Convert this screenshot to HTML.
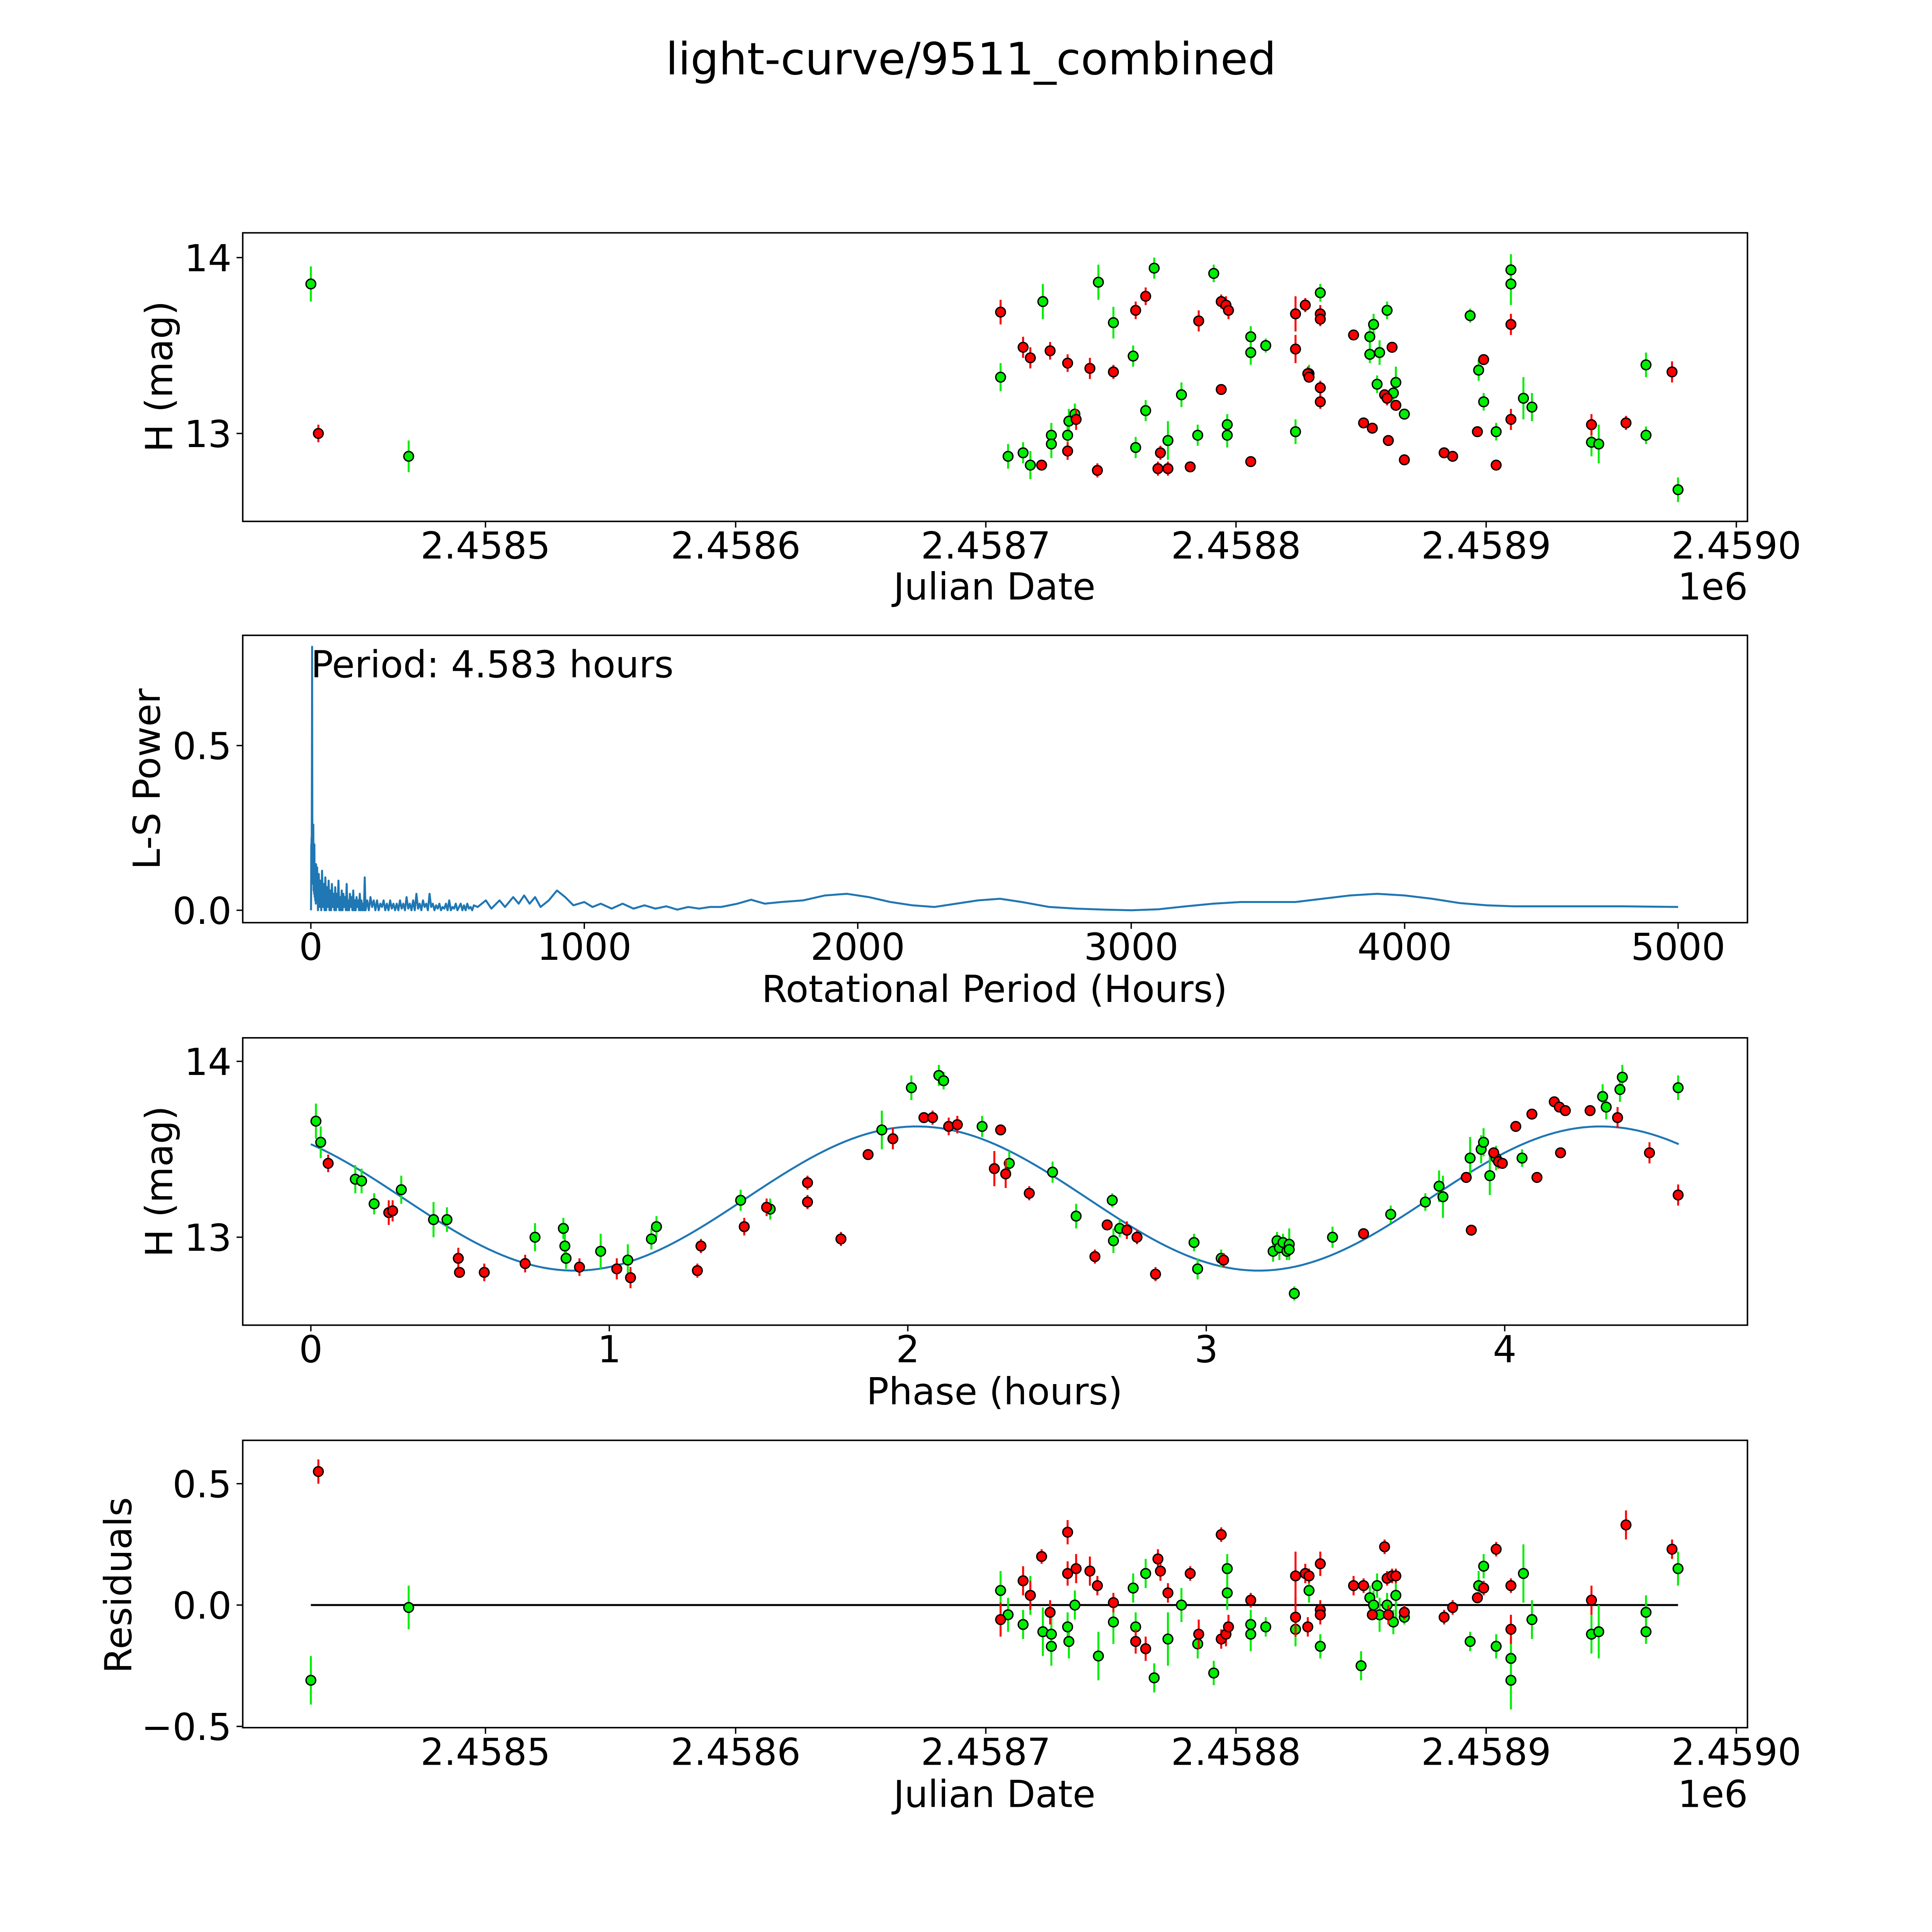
<!DOCTYPE html>
<html><head><meta charset="utf-8">
<style>
html,body{margin:0;padding:0;background:#fff;overflow:hidden;width:100%;height:100%;}
svg{display:block;position:fixed;left:0;top:0;width:100vw;height:100vh;}
text{font-family:"DejaVu Sans","Liberation Sans",sans-serif;fill:#000;}
</style></head>
<body>
<svg id="fig" xmlns="http://www.w3.org/2000/svg" viewBox="0 0 1560 1560" preserveAspectRatio="none">
<rect x="0" y="0" width="1560" height="1560" fill="#fff"/>
<text x="784" y="60" font-size="36" text-anchor="middle">light-curve/9511_combined</text>
<g id="p1"></g>
<g id="p2"></g>
<g id="p3"></g>
<g id="p4"></g>
</svg>
<script>
// ---------- data (JD given as days since 2458500) ----------
const greenJD = [-69.8,-30.7,205.9,208.9,214.9,217.8,222.8,226.2,226.2,232.7,233.2,235.6,245.0,251.0,258.9,259.9,263.9,267.3,272.8,278.2,284.7,291.1,296.5,296.5,305.9,305.9,311.9,323.8,329.2,333.7,353.5,353.5,355.0,356.4,357.4,360.4,362.9,363.9,367.3,393.6,397.0,399.0,404.0,409.9,409.9,414.9,418.3,442.1,445.0,463.9,463.9,476.7];
const greenMag = [13.85,12.87,13.32,12.87,12.89,12.82,13.75,12.99,12.94,12.99,13.07,13.11,13.86,13.63,13.44,12.92,13.13,13.94,12.96,13.22,12.99,13.91,13.05,12.99,13.55,13.46,13.50,13.01,13.34,13.80,13.55,13.45,13.62,13.28,13.46,13.70,13.23,13.29,13.11,13.67,13.36,13.18,13.01,13.93,13.85,13.20,13.15,12.95,12.94,13.39,12.99,12.68];
const greenErr = [0.1,0.09,0.08,0.07,0.06,0.08,0.1,0.07,0.08,0.06,0.07,0.06,0.1,0.09,0.06,0.06,0.06,0.06,0.11,0.07,0.06,0.05,0.06,0.07,0.06,0.07,0.04,0.07,0.05,0.05,0.06,0.05,0.06,0.05,0.07,0.05,0.05,0.09,0.03,0.04,0.06,0.05,0.05,0.09,0.12,0.12,0.08,0.08,0.11,0.07,0.05,0.07];
const redJD = [-66.8,205.9,214.9,217.8,222.3,225.7,232.7,232.7,236.1,241.6,244.6,251.0,259.9,263.9,268.8,269.8,272.8,281.7,285.1,294.1,294.1,296.0,297.0,305.9,323.8,323.8,327.7,328.7,329.2,333.7,333.7,333.7,333.7,347.0,351.0,354.5,359.4,360.4,360.9,362.4,363.9,367.3,383.2,386.6,396.5,399.0,404.0,409.9,409.9,442.1,455.9,474.3];
const redMag = [13.00,13.69,13.49,13.43,12.82,13.47,13.40,12.90,13.08,13.37,12.79,13.35,13.70,13.78,12.80,12.89,12.80,12.81,13.64,13.25,13.75,13.73,13.70,12.84,13.68,13.48,13.73,13.34,13.32,13.68,13.65,13.26,13.18,13.56,13.06,13.03,13.22,13.20,12.96,13.49,13.16,12.85,12.89,12.87,13.01,13.42,12.82,13.62,13.08,13.05,13.06,13.35];
const redErr = [0.05,0.07,0.06,0.06,0.03,0.05,0.05,0.05,0.06,0.06,0.04,0.04,0.05,0.05,0.04,0.04,0.04,0.03,0.06,0.03,0.04,0.05,0.05,0.03,0.1,0.08,0.04,0.04,0.03,0.05,0.04,0.04,0.04,0.03,0.02,0.03,0.03,0.04,0.03,0.03,0.03,0.03,0.03,0.02,0.03,0.03,0.03,0.06,0.06,0.06,0.04,0.06];

const greenResJD = [-69.8,-30.7,205.9,208.9,214.9,217.8,222.8,226.2,226.2,232.7,233.2,235.6,245.0,251.0,258.9,259.9,263.9,267.3,272.8,278.2,284.7,291.1,296.5,296.5,305.9,305.9,311.9,323.8,329.2,333.7,350.0,353.5,355.0,356.4,357.4,360.4,362.9,363.9,367.3,393.6,397.0,399.0,404.0,409.9,409.9,414.9,418.3,442.1,445.0,463.9,463.9,476.7];
const greenRes = [-0.31,-0.01,0.06,-0.04,-0.08,0.04,-0.11,-0.12,-0.17,-0.09,-0.15,0.0,-0.21,-0.07,0.07,-0.09,0.13,-0.30,-0.14,0.0,-0.16,-0.28,0.15,0.05,-0.08,-0.12,-0.09,-0.10,0.06,-0.17,-0.25,0.03,0.0,0.08,-0.04,0.0,-0.07,0.04,-0.05,-0.15,0.08,0.16,-0.17,-0.22,-0.31,0.13,-0.06,-0.12,-0.11,-0.03,-0.11,0.15];
const redResJD = [-66.8,205.9,214.9,217.8,222.3,225.7,232.7,232.7,236.1,241.6,244.6,251.0,259.9,263.9,268.8,269.8,272.8,281.7,285.1,294.1,294.1,296.0,297.0,305.9,323.8,323.8,327.7,328.7,329.2,333.7,333.7,333.7,347.0,351.0,354.5,359.4,360.4,360.9,362.4,363.9,367.3,383.2,386.6,396.5,399.0,404.0,409.9,409.9,442.1,455.9,474.3];
const redRes = [0.55,-0.06,0.10,0.04,0.20,-0.03,0.30,0.13,0.15,0.14,0.08,0.01,-0.15,-0.18,0.19,0.14,0.05,0.13,-0.12,0.29,-0.14,-0.12,-0.09,0.02,0.12,-0.05,0.13,-0.09,0.12,0.17,-0.02,-0.04,0.08,0.08,-0.04,0.24,0.11,-0.04,0.12,0.12,-0.03,-0.05,-0.01,0.03,0.07,0.23,0.08,-0.10,0.02,0.33,0.23];

const greenPhase = [0.017,0.033,0.149,0.170,0.212,0.303,0.411,0.456,0.751,0.846,0.851,0.855,0.971,1.062,1.141,1.158,1.440,1.539,1.913,2.012,2.104,2.120,2.249,2.340,2.485,2.564,2.685,2.689,2.710,2.959,2.971,3.050,3.224,3.237,3.245,3.257,3.270,3.278,3.278,3.295,3.423,3.618,3.734,3.780,3.793,3.884,3.921,3.929,3.950,3.971,4.058,4.328,4.340,4.386,4.394,4.581];
const greenPhaseMag = [13.66,13.54,13.33,13.32,13.19,13.27,13.10,13.10,13.00,13.05,12.95,12.88,12.92,12.87,12.99,13.06,13.21,13.16,13.61,13.85,13.92,13.89,13.63,13.42,13.37,13.12,13.21,12.98,13.05,12.97,12.82,12.88,12.92,12.98,12.94,12.97,12.92,12.96,12.93,12.68,13.00,13.13,13.20,13.29,13.23,13.45,13.50,13.54,13.35,13.45,13.45,13.80,13.74,13.84,13.91,13.85];
const redPhase = [0.058,0.261,0.274,0.494,0.498,0.581,0.718,0.900,1.025,1.071,1.295,1.307,1.452,1.527,1.664,1.664,1.776,1.867,1.950,2.054,2.083,2.137,2.166,2.311,2.290,2.328,2.407,2.627,2.668,2.734,2.768,2.830,3.058,3.527,3.888,3.871,3.963,3.979,3.992,4.037,4.091,4.108,4.166,4.183,4.187,4.203,4.286,4.378,4.485,4.581];
const redPhaseMag = [13.42,13.14,13.15,12.88,12.80,12.80,12.85,12.83,12.82,12.77,12.81,12.95,13.06,13.17,13.31,13.20,12.99,13.47,13.56,13.68,13.68,13.63,13.64,13.61,13.39,13.36,13.25,12.89,13.07,13.04,13.00,12.79,12.87,13.02,13.04,13.34,13.48,13.43,13.42,13.63,13.70,13.34,13.77,13.74,13.48,13.72,13.72,13.68,13.48,13.24];

// sinusoidal fit parameters: [offset, amplitude, periodHours, peakPhase]
const fitParams = [13.22, 0.41, 2.2915, 2.03];
const fitRange = [0, 4.583];

// Lomb-Scargle periodogram
const lsPeriod = [0.5,1,1.5,2,2.5,3,3.5,4,4.3,4.58,4.9,5.3,6,7,8,9,10,11,12,13,14,15,16,17,18,19,20,
 23,26,29,32,35,38,41,44,47,50,53,56,59,62,65,68,71,74,77,80,83,86,89,92,95,98,101,104,107,110,113,116,119,122,125,128,131,134,137,140,143,146,149,152,155,158,161,164,167,170,173,176,179,182,185,188,191,194,197,200,
 206,212,218,224,230,236,242,248,254,260,266,272,278,284,290,296,302,308,314,320,326,332,338,344,350,356,362,368,374,380,386,392,398,404,410,416,422,428,434,440,446,452,458,464,470,476,482,488,494,500,506,512,518,524,530,536,542,548,554,560,566,572,578,584,590,596,
 610,640,660,690,710,740,760,780,800,820,840,870,900,930,960,1000,1030,1060,1100,1140,1180,1220,1260,1300,1340,1380,1420,1460,1500,1560,1610,1660,1720,1800,1880,1960,2040,2120,2200,2280,2360,2440,2520,2600,2700,2800,2900,3000,3100,3200,3300,3400,3500,3600,3700,3800,3900,4000,4100,4200,4300,4400,4600,4800,5000];
const lsPower = [0.0,0.05,0.2,0.1,0.22,0.12,0.3,0.45,0.6,0.80,0.55,0.3,0.12,0.2,0.08,0.26,0.06,0.14,0.05,0.2,0.04,0.12,0.03,0.1,0.02,0.14,0.03,
 0.13,0.0,0.11,0.01,0.09,0.0,0.12,0.01,0.08,0.0,0.1,0.0,0.07,0.01,0.09,0.0,0.06,0.0,0.08,0.01,0.05,0.0,0.07,0.0,0.05,0.01,0.09,0.0,0.04,0.0,0.06,0.0,0.05,0.01,0.04,0.0,0.08,0.0,0.03,0.0,0.05,0.01,0.04,0.0,0.06,0.0,0.03,0.0,0.04,0.01,0.03,0.0,0.05,0.0,0.03,0.0,0.02,0.0,0.1,0.0,
 0.03,0.0,0.04,0.01,0.03,0.0,0.03,0.0,0.02,0.01,0.03,0.0,0.02,0.0,0.03,0.005,0.02,0.0,0.02,0.0,0.03,0.005,0.02,0.0,0.04,0.005,0.02,0.0,0.03,0.0,0.05,0.005,0.02,0.0,0.03,0.01,0.02,0.0,0.05,0.01,0.02,0.0,0.015,0.005,0.02,0.0,0.01,0.005,0.02,0.0,0.03,0.0,0.01,0.005,0.02,0.0,0.01,0.02,0.0,0.015,0.0,0.02,0.005,0.01,0.0,0.015,
 0.01,0.03,0.005,0.03,0.01,0.04,0.02,0.045,0.02,0.04,0.01,0.03,0.06,0.04,0.015,0.025,0.01,0.02,0.005,0.02,0.005,0.015,0.005,0.012,0.002,0.01,0.005,0.01,0.01,0.02,0.032,0.02,0.025,0.03,0.045,0.05,0.04,0.025,0.015,0.01,0.02,0.03,0.035,0.025,0.01,0.005,0.002,0.0,0.003,0.012,0.02,0.025,0.025,0.025,0.035,0.045,0.05,0.045,0.035,0.022,0.015,0.012,0.012,0.012,0.01];

// ---------- rendering ----------
const NS = 'http://www.w3.org/2000/svg';
function mk(parent, tag, attrs, txt){
  const el = document.createElementNS(NS, tag);
  for (const k in attrs) el.setAttribute(k, attrs[k]);
  if (txt !== undefined) el.textContent = txt;
  parent.appendChild(el);
  return el;
}
function lin(d0,d1,p0,p1){ return v => p0 + (v-d0)*(p1-p0)/(d1-d0); }

const jdX = lin(0, 100, 392, 594);
const magY1 = lin(13, 14, 350, 208);
const perX = lin(0, 5000, 251, 1355);
const powY = lin(0, 0.5, 735, 602);
const phX = lin(0, 4, 251, 1215);
const magY3 = lin(13, 14, 999, 857);
const resY = lin(0, 0.5, 1296, 1198);
const FS = 30;

function frame(g, x0, y0, x1, y1){
  const r = mk(g,'rect',{x:x0,y:y0,width:x1-x0,height:y1-y0,fill:'none',stroke:'#000','stroke-width':1.2});
  
  
}
function xTicks(g, vals, labels, fx, yb){
  vals.forEach((v,i)=>{
    const x = fx(v);
    const t = mk(g,'line',{x1:x,x2:x,y1:yb,y2:yb+5,stroke:'#000','stroke-width':1.1});
    
    
    const l = mk(g,'text',{x:x,y:yb+30,'font-size':FS,'text-anchor':'middle'},labels[i]);
    
    
  });
}
function yTicks(g, vals, labels, fy, xl){
  vals.forEach((v,i)=>{
    const y = fy(v);
    const t = mk(g,'line',{x1:xl-5,x2:xl,y1:y,y2:y,stroke:'#000','stroke-width':1.1});
    
    
    const l = mk(g,'text',{x:xl-9,y:y+11,'font-size':FS,'text-anchor':'end'},labels[i]);
    
    
  });
}
function label(g, x, y, txt, name, rot){
  const a = {x:x,y:y,'font-size':FS,'text-anchor':'middle'};
  if (rot) a.transform = 'rotate(-90 '+x+' '+y+')';
  const l = mk(g,'text',a,txt);
  
  
}
function points(g, xs, ys, errs, fx, fy, color, name){
  xs.forEach((xv,i)=>{
    const x = fx(xv);
    const e = (errs && errs[i] !== undefined) ? errs[i] : 0.07;
    const b = mk(g,'line',{x1:x,x2:x,y1:fy(ys[i]-e),y2:fy(ys[i]+e),stroke:color,'stroke-width':1.6});
    
    
  });
  xs.forEach((xv,i)=>{
    const c = mk(g,'circle',{cx:fx(xv),cy:fy(ys[i]),r:3.9,fill:color,stroke:'#000','stroke-width':1.1});
    
    
  });
}
const jdTickVals=[0,100,200,300,400,500];
const jdTickLabels=['2.4585','2.4586','2.4587','2.4588','2.4589','2.4590'];

// Panel 1
(function(){
  const g = document.getElementById('p1');
  points(g, greenJD, greenMag, greenErr, jdX, magY1, '#00ee00', 'green-band');
  points(g, redJD, redMag, redErr, jdX, magY1, '#ff0000', 'red-band');
  frame(g,196,188,1411,421);
  xTicks(g, jdTickVals, jdTickLabels, jdX, 421);
  yTicks(g, [13,14], ['13','14'], magY1, 196);
  label(g, 803, 484, 'Julian Date', 'x-axis-title');
  label(g, 1383, 484, '1e6', 'x-offset-label');
  label(g, 139, 304, 'H (mag)', 'y-axis-title', true);
})();

// Panel 2
(function(){
  const g = document.getElementById('p2');
  const d = lsPeriod.map((p,i)=>(i?'L':'M')+perX(p).toFixed(2)+' '+powY(lsPower[i]).toFixed(2)).join(' ');
  const pl = mk(g,'path',{d:d,fill:'none',stroke:'#1f77b4','stroke-width':1.6,'stroke-linejoin':'round'});
  
  
  frame(g,196,513,1411,745);
  xTicks(g,[0,1000,2000,3000,4000,5000],['0','1000','2000','3000','4000','5000'],perX,745);
  yTicks(g,[0,0.5],['0.0','0.5'],powY,196);
  const a = mk(g,'text',{x:251,y:547,'font-size':FS},'Period: 4.583 hours');
  
  
  label(g, 803, 809, 'Rotational Period (Hours)', 'x-axis-title');
  label(g, 129, 629, 'L-S Power', 'y-axis-title', true);
})();

// Panel 3
(function(){
  const g = document.getElementById('p3');
  const pts=[];
  for(let i=0;i<=200;i++){
    const p = fitRange[0]+(fitRange[1]-fitRange[0])*i/200;
    const m = fitParams[0]+fitParams[1]*Math.cos(2*Math.PI*(p-fitParams[3])/fitParams[2]);
    pts.push((i?'L':'M')+phX(p).toFixed(2)+' '+magY3(m).toFixed(2));
  }
  const f = mk(g,'path',{d:pts.join(' '),fill:'none',stroke:'#1f77b4','stroke-width':1.6});
  
  
  points(g, greenPhase, greenPhaseMag, greenErr, phX, magY3, '#00ee00', 'green-phase');
  points(g, redPhase, redPhaseMag, redErr, phX, magY3, '#ff0000', 'red-phase');
  frame(g,196,838,1411,1070);
  xTicks(g,[0,1,2,3,4],['0','1','2','3','4'],phX,1070);
  yTicks(g,[13,14],['13','14'],magY3,196);
  label(g, 803, 1134, 'Phase (hours)', 'x-axis-title');
  label(g, 139, 954, 'H (mag)', 'y-axis-title', true);
})();

// Panel 4
(function(){
  const g = document.getElementById('p4');
  const z = mk(g,'line',{x1:jdX(-69.8),x2:jdX(476.7),y1:resY(0),y2:resY(0),stroke:'#000','stroke-width':1.6});
  
  
  points(g, greenResJD, greenRes, greenErr, jdX, resY, '#00ee00', 'green-residual');
  points(g, redResJD, redRes, redErr, jdX, resY, '#ff0000', 'red-residual');
  frame(g,196,1163,1411,1395);
  xTicks(g, jdTickVals, jdTickLabels, jdX, 1395);
  yTicks(g,[-0.5,0,0.5],['\u22120.5','0.0','0.5'],resY,196);
  label(g, 803, 1459, 'Julian Date', 'x-axis-title');
  label(g, 1383, 1459, '1e6', 'x-offset-label');
  label(g, 106, 1280, 'Residuals', 'y-axis-title', true);
})();
</script>
</body></html>
